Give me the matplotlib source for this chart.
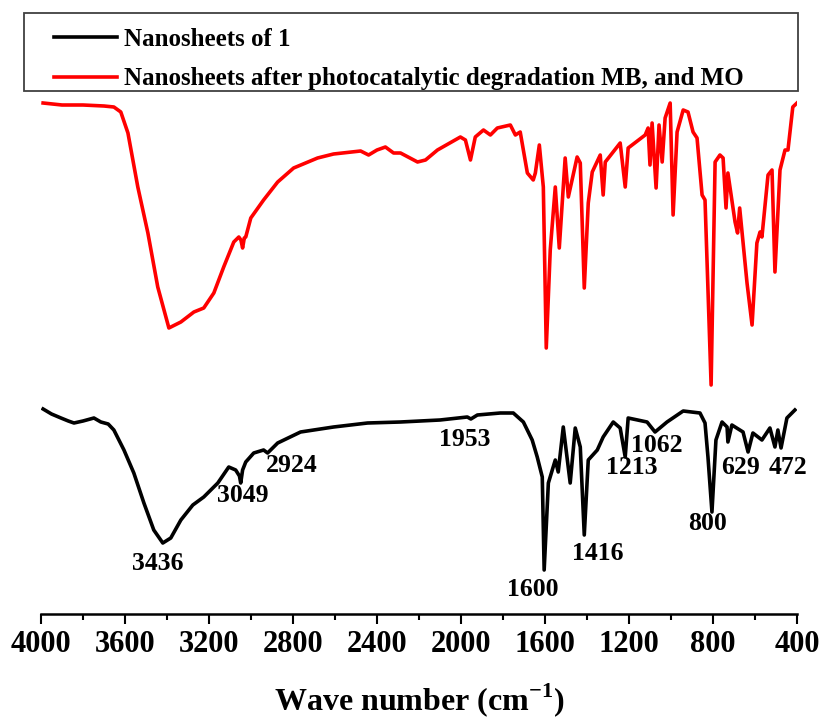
import numpy as np
import matplotlib
matplotlib.use("Agg")
import matplotlib.pyplot as plt
from matplotlib.patches import Rectangle
from matplotlib.ticker import MultipleLocator

# spectra (wavenumber in cm-1, transmittance in arbitrary units)
red_wn = [3990, 3900, 3800, 3700, 3653, 3620, 3586, 3539, 3491, 3444, 3391, 3334, 3272, 3225,
          3177, 3130, 3082, 3058, 3048, 3040, 3032, 3025, 3001, 2940, 2873, 2797, 2683, 2607,
          2478, 2440, 2400, 2360, 2321, 2288, 2207, 2169, 2112, 2003, 1979, 1955, 1932, 1893,
          1860, 1827, 1765, 1741, 1718, 1684, 1656, 1646, 1627, 1608, 1594, 1575, 1551, 1532,
          1504, 1489, 1447, 1432, 1413, 1394, 1375, 1337, 1323, 1313, 1242, 1218, 1204, 1123,
          1109, 1100, 1090, 1071, 1057, 1042, 1028, 1004, 990, 971, 942, 919, 895, 876, 852,
          838, 809, 790, 767, 752, 738, 729, 695, 683, 673, 638, 614, 591, 576, 567, 538, 519,
          505, 481, 457, 443, 420, 400]
red_t = [597, 595, 595, 594, 593, 588, 567, 513, 467, 413, 372, 378, 388, 392,
         407, 433, 458, 463, 460, 452, 462, 463, 482, 500, 518, 532, 542, 546,
         549, 545, 550, 553, 547, 547, 538, 540, 550, 563, 560, 540, 563, 570,
         565, 572, 575, 565, 568, 527, 520, 527, 555, 513, 352, 450, 513, 452,
         542, 503, 543, 537, 412, 497, 528, 545, 505, 538, 557, 513, 552, 565,
         572, 535, 577, 512, 575, 538, 582, 597, 485, 568, 590, 588, 568, 562, 505,
         500, 315, 538, 545, 542, 492, 527, 478, 467, 492, 417, 375, 457, 468, 463, 525, 530,
         428, 530, 550, 550, 593, 597]

black_wn = [3990, 3950, 3905, 3870, 3843, 3800, 3748, 3715, 3680, 3653, 3605, 3558, 3510, 3463,
            3420, 3382, 3334, 3277, 3225, 3158, 3106, 3073, 3055, 3049, 3040, 3025, 2987, 2940,
            2921, 2873, 2764, 2607, 2445, 2288, 2100, 1970, 1953, 1922, 1813, 1751, 1703, 1661,
            1637, 1613, 1604, 1584, 1551, 1537, 1513, 1480, 1456, 1432, 1413, 1394, 1351, 1323,
            1275, 1242, 1218, 1204, 1114, 1076, 1019, 942, 862, 838, 824, 805, 786, 757, 733,
            729, 710, 657, 633, 610, 567, 529, 505, 491, 476, 448, 410]
black_t = [291, 286, 282, 279, 277, 279, 282, 278, 276, 270, 250, 227, 197, 170,
           157, 162, 180, 195, 203, 217, 233, 230, 224, 217, 230, 238, 247, 250,
           247, 257, 268, 273, 277, 278, 280, 283, 281, 285, 287, 287, 278, 260,
           243, 223, 130, 217, 240, 228, 273, 217, 272, 253, 165, 240, 250, 263,
           278, 272, 243, 282, 278, 268, 278, 289, 287, 277, 243, 188, 260, 278, 273,
           258, 275, 268, 248, 267, 260, 272, 253, 270, 252, 282, 290]

legend_labels = ["Nanosheets of 1",
                 "Nanosheets after photocatalytic degradation MB, and MO"]

# peak labels and where their text sits
peak_text = ["3436", "3049", "2924", "1953", "1600", "1416", "1213", "1062", "800", "629", "472"]
peak_text_wn = [3443, 3038, 2805, 1981, 1657, 1348, 1186, 1067, 824, 671, 443]
peak_text_t = [136, 205, 234, 260, 110, 146, 232, 255, 177, 232, 233]

plt.rcParams['font.family'] = ['Liberation Serif', 'DejaVu Serif']
plt.rcParams['font.weight'] = 'bold'
plt.rcParams['mathtext.fontset'] = 'custom'
plt.rcParams['mathtext.rm'] = 'Liberation Serif:bold'
plt.rcParams['mathtext.bf'] = 'Liberation Serif:bold'

W, H = 822, 722
fig = plt.figure(figsize=(W / 100, H / 100), dpi=100)
ax = fig.add_axes([41 / W, 1 - 614 / H, 756 / W, 614 / H])

l1, = ax.plot(black_wn, black_t, color='black', lw=2.6, solid_joinstyle='round')
l2, = ax.plot(red_wn, red_t, color='#ff0000', lw=2.6, solid_joinstyle='round')

for s, x, y in zip(peak_text, peak_text_wn, peak_text_t):
    ax.text(x, y, s, ha='center', va='center', fontsize=18.5, fontweight='bold')

ax.set_xlim(4000, 400)
ax.set_ylim(86, 700)
for side in ['left', 'right', 'top']:
    ax.spines[side].set_visible(False)
ax.spines['bottom'].set_linewidth(1.8)
ax.set_yticks([])
ax.xaxis.set_major_locator(MultipleLocator(400))
ax.xaxis.set_minor_locator(MultipleLocator(200))
ax.tick_params(axis='x', which='major', length=7.5, width=1.5, pad=4, labelsize=22)
ax.tick_params(axis='x', which='minor', length=4.5, width=1.5)
for t in ax.get_xticklabels():
    t.set_fontweight('bold')
ax.set_xlabel(r'Wave number (cm$^{\mathbf{-1}}$)', fontsize=23, fontweight='bold', labelpad=16)

# legend box
fig.patches.append(Rectangle((24 / W, 1 - 91 / H), 774 / W, 78 / H, transform=fig.transFigure,
                             fill=False, edgecolor='#404040', lw=1.3))
fig.legend([l1, l2], legend_labels, loc='upper left',
           bbox_to_anchor=(34 / W, 1 - 8 / H), frameon=False,
           prop={'family': 'Liberation Serif', 'weight': 'bold', 'size': 18},
           handlelength=2.5, handletextpad=0.3, labelspacing=0.65, borderpad=0.3)

fig.savefig('out.png', dpi=100)
